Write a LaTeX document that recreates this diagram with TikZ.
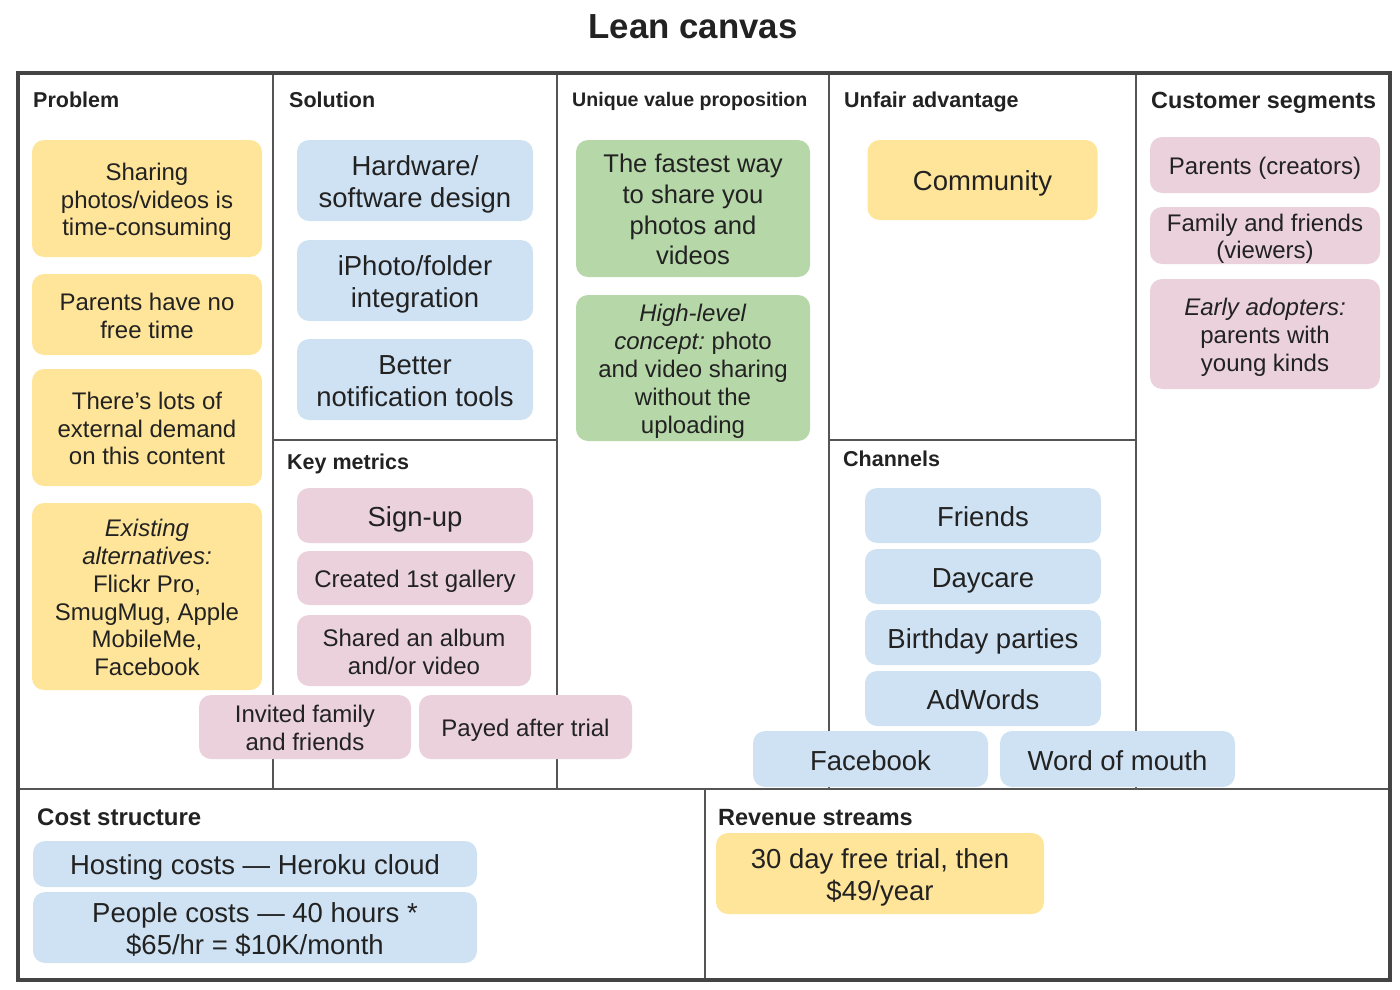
\documentclass[tikz,border=0pt]{standalone}
\usepackage{fontspec}
\setmainfont{Liberation Sans}
\frenchspacing

\definecolor{ink}{HTML}{222222}
\definecolor{frameline}{HTML}{444444}
\definecolor{ruleline}{HTML}{555555}
\definecolor{noteyellow}{HTML}{FFE599}
\definecolor{noteblue}{HTML}{CFE2F3}
\definecolor{notegreen}{HTML}{B6D7A8}
\definecolor{notepink}{HTML}{EAD1DC}

\tikzset{
  card/.style={rounded corners=12pt, inner sep=0pt, text width=230pt, align=flush center, text=ink,
    execute at begin node={\rule{0pt}{1em}},
    execute at end node={\rule[-0.2em]{0pt}{0.2em}}},
  yellowcard/.style={card, fill=noteyellow},
  bluecard/.style={card, fill=noteblue},
  greencard/.style={card, fill=notegreen},
  pinkcard/.style={card, fill=notepink},
  small/.style={font=\fontsize{24}{27.8}\selectfont},
  large/.style={font=\fontsize{27.5}{32.5}\selectfont},
  heading/.style={anchor=base west, inner sep=0pt, text=ink, font=\bfseries\fontsize{21.5}{24}\selectfont},
  frame/.style={draw=frameline, line width=3.5pt},
  rule/.style={draw=ruleline, line width=2pt}
}

\begin{document}
\begin{tikzpicture}[x=1pt,y=-1pt]
      \useasboundingbox (0,0) rectangle (1400,990);
      % Draw title
      \node (title) at (693,27) [text=ink, font=\bfseries\fontsize{34.8}{40}\selectfont] {Lean canvas};
      % Draw grid
      \draw [rule] (273,73) -- (273,789);
      \draw [rule] (557,73) -- (557,789);
      \draw [rule] (829,73) -- (829,789);
      \draw [rule] (1136,73) -- (1136,789);
      \draw [rule] (273,440) -- (557,440);
      \draw [rule] (829,440) -- (1136,440);
      \draw [rule] (18,789) -- (1390,789);
      \draw [rule] (705,789) -- (705,980);
      \draw [frame] (18,73) rectangle (1390,980);
      % Draw headings
      \node (problem) at (33,107) [heading] {Problem};
      \node (solution) at (289,107) [heading] {Solution};
      \node (uvp) at (572,106.5) [heading, font=\bfseries\fontsize{19.6}{22}\selectfont] {Unique value proposition};
      \node (unfair) at (844,107.5) [heading] {Unfair advantage};
      \node (segments) at (1151,108.5) [heading, font=\bfseries\fontsize{23.4}{26}\selectfont] {Customer segments};
      \node (metrics) at (287,469.5) [heading] {Key metrics};
      \node (channels) at (843,466.5) [heading] {Channels};
      \node (cost) at (37,825.5) [heading, font=\bfseries\fontsize{24}{26}\selectfont] {Cost structure};
      \node (revenue) at (718,825.5) [heading, font=\bfseries\fontsize{23.5}{26}\selectfont] {Revenue streams};
      % Draw problem notes
      \node (sharing) at (147,198.5) [yellowcard, small, minimum width=228, minimum height=117]
        {Sharing\\photos/videos is\\time-consuming};
      \node (notime) at (147,314.5) [yellowcard, small, minimum width=228, minimum height=81]
        {Parents have no\\free time};
      \node (demand) at (147,427.5) [yellowcard, small, minimum width=228, minimum height=117]
        {There’s lots of\\external demand\\on this content};
      \node (existing) at (147,596.5) [yellowcard, small, minimum width=228, minimum height=187]
        {\textit{Existing}\\\textit{alternatives:}\\Flickr Pro,\\SmugMug, Apple\\MobileMe,\\Facebook};
      % Draw solution notes
      \node (hardware) at (415,180.5) [bluecard, large, minimum width=236, minimum height=81]
        {Hardware/\\software design};
      \node (iphoto) at (415,280.5) [bluecard, large, minimum width=236, minimum height=81]
        {iPhoto/folder\\integration};
      \node (notify) at (415,379.5) [bluecard, large, minimum width=236, minimum height=81]
        {Better\\notification tools};
      % Draw key metrics notes
      \node (signup) at (415,515.5) [pinkcard, large, minimum width=236, minimum height=55] {Sign-up};
      \node (gallery) at (415,578) [pinkcard, small, minimum width=236, minimum height=54] {Created 1st gallery};
      \node (shared) at (414,650.5) [pinkcard, small, minimum width=234, minimum height=71]
        {Shared an album\\and/or video};
      \node (invited) at (305,727) [pinkcard, small, text width=205pt, minimum width=212, minimum height=64]
        {Invited family\\and friends};
      \node (payed) at (525.5,727) [pinkcard, small, text width=205pt, minimum width=213, minimum height=64] {Payed after trial};
      % Draw value proposition notes
      \node (fastest) at (693,208.5) [greencard, font=\fontsize{25.6}{30.8}\selectfont, minimum width=234, minimum height=137]
        {The fastest way\\to share you\\photos and\\videos};
      \node (concept) at (693,368) [greencard, small, minimum width=234, minimum height=146]
        {\textit{High-level}\\\textit{concept:} photo\\and video sharing\\without the\\uploading};
      % Draw unfair advantage note
      \node (community) at (982.5,180) [yellowcard, large, minimum width=227, minimum height=80] {Community};
      % Draw channel notes
      \node (friends) at (983,515.5) [bluecard, large, minimum width=236, minimum height=55] {Friends};
      \node (daycare) at (983,576.5) [bluecard, large, minimum width=236, minimum height=55] {Daycare};
      \node (birthday) at (983,637.5) [bluecard, large, minimum width=236, minimum height=55] {Birthday parties};
      \node (adwords) at (983,698.5) [bluecard, large, minimum width=236, minimum height=55] {AdWords};
      \node (facebook) at (870.5,759) [bluecard, large, minimum width=235, minimum height=56] {Facebook};
      \node (mouth) at (1117.5,759) [bluecard, large, minimum width=235, minimum height=56] {Word of mouth};
      % Draw customer segment notes
      \node (creators) at (1265,165) [pinkcard, small, minimum width=228, minimum height=56] {Parents (creators)};
      \node (viewers) at (1265,235.5) [pinkcard, small, minimum width=228, minimum height=57]
        {Family and friends\\(viewers)};
      \node (adopters) at (1265,334) [pinkcard, small, minimum width=228, minimum height=110]
        {\textit{Early adopters:}\\parents with\\young kinds};
      % Draw cost notes
      \node (hosting) at (255,864) [bluecard, large, text width=430pt, minimum width=444, minimum height=46]
        {Hosting costs — Heroku cloud};
      \node (people) at (255,927.5) [bluecard, large, text width=430pt, minimum width=444, minimum height=71]
        {People costs — 40 hours *\\\$65/hr = \$10K/month};
      % Draw revenue note
      \node (trial) at (880,873.5) [yellowcard, large, text width=320pt, minimum width=328, minimum height=81]
        {30 day free trial, then\\\$49/year};
\end{tikzpicture}
\end{document}
